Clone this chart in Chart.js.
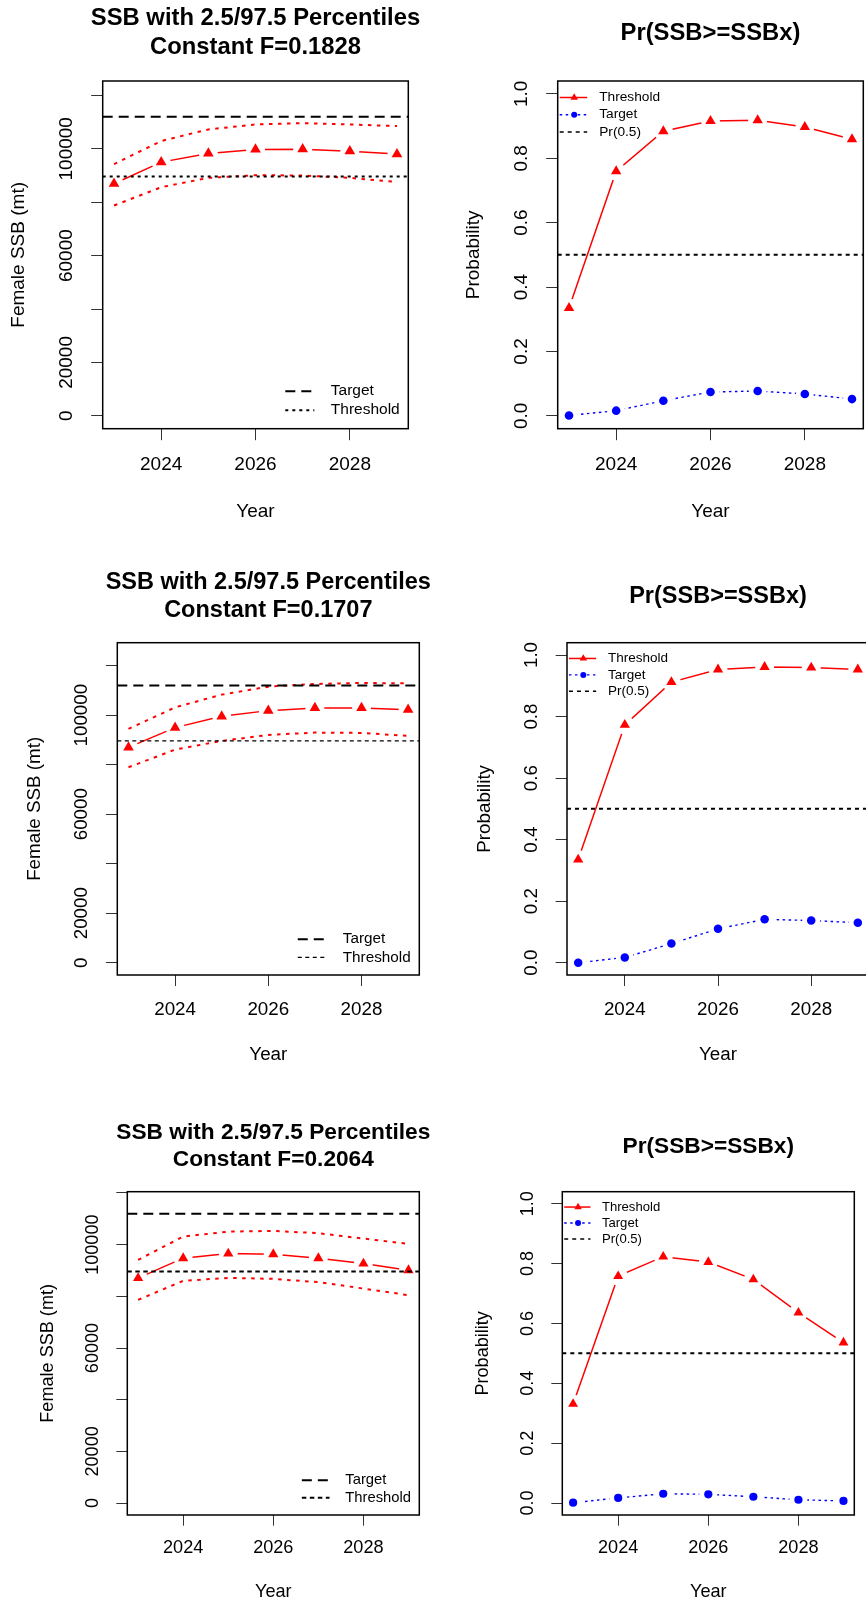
<!DOCTYPE html>
<html>
<head>
<meta charset="utf-8">
<script src="https://cdn.jsdelivr.net/npm/chart.js@4.4.0/dist/chart.umd.min.js"></script>
<style>
  html, body { margin: 0; padding: 0; background: #fff; overflow: hidden; }
  body { position: relative; width: 866px; height: 1616px; }
  canvas { position: absolute; }
</style>
</head>
<body>
<script>
// --- Data ---
const years = [2023, 2024, 2025, 2026, 2027, 2028, 2029];
const fValues = ['0.1828', '0.1707', '0.2064'];

const ssbMedianA = [86900, 95000, 98250, 99750, 99870, 99120, 98000];
const ssbUpperA  = [94250, 102900, 107250, 109100, 109600, 109100, 108500];
const ssbLowerA  = [78750, 85600, 89100, 90100, 90000, 89100, 87600];

const ssbMedianB = [87000, 94970, 99530, 101830, 102900, 102900, 102230];
const ssbUpperB  = [94440, 103160, 108290, 111520, 112600, 113000, 112850];
const ssbLowerB  = [78950, 86090, 89600, 92020, 92950, 92820, 91620];

const ssbMedianC = [87040, 94770, 96550, 96310, 94770, 92680, 90120];
const ssbUpperC  = [94110, 103120, 105050, 105330, 104440, 102350, 100300];
const ssbLowerC  = [78640, 85990, 87150, 86760, 85480, 83010, 80450];

const probThresholdA = [0.335, 0.760, 0.884, 0.916, 0.918, 0.897, 0.859];
const probTargetA    = [0.001, 0.016, 0.047, 0.074, 0.077, 0.068, 0.052];
const probThresholdB = [0.335, 0.773, 0.912, 0.953, 0.961, 0.959, 0.953];
const probTargetB    = [0.000, 0.017, 0.062, 0.110, 0.141, 0.137, 0.130];
const probThresholdC = [0.331, 0.758, 0.823, 0.805, 0.747, 0.636, 0.536];
const probTargetC    = [0.001, 0.017, 0.031, 0.029, 0.021, 0.011, 0.007];

const ssbTarget = 112000;
const ssbThreshold = 89600;
const probRef = 0.5;

const ssbTicks = [0, 20000, 40000, 60000, 80000, 100000, 120000];
const ssbTickLabels = ['0', '20000', '', '60000', '', '100000', ''];
const probTicks = [0, 0.2, 0.4, 0.6, 0.8, 1.0];
const probTickLabels = ['0.0', '0.2', '0.4', '0.6', '0.8', '1.0'];
const yearTicks = [2024, 2026, 2028];
const yearTickLabels = ['2024', '2026', '2028'];
// ------------

// page layout of the three rows (plot box edges in page pixels)
const rows = [
  { top: 0,    height: 540, T: 81,     B: 428.7, kx: 1,     ky: 1,     ssbBox: [102.7, 408.3], prBox: [557.7, 863.3], thrDash: [3, 4],     thrWidth: 2 },
  { top: 540,  height: 540, T: 642.7,  B: 975,   kx: 0.988, ky: 0.956, ssbBox: [117.3, 419.3], prBox: [567, 869],     thrDash: [4, 3.5],   thrWidth: 1.2 },
  { top: 1080, height: 536, T: 1191.7, B: 1515,  kx: 0.955, ky: 0.93,  ssbBox: [127.3, 419.3], prBox: [562.3, 854.3], thrDash: [4.5, 3.5], thrWidth: 2 }
];

const GAP = '#ffffff'; // white disc under each marker, leaves R's type="b" gap in the line
const FONT = '"Liberation Sans", Arial, Helvetica, sans-serif';
const fnt = (px, bold) => (bold ? 'bold ' : '') + px.toFixed(1) + 'px ' + FONT;
const xMin = years[0] - 0.04 * (years[years.length - 1] - years[0]);
const xMax = years[years.length - 1] + 0.04 * (years[years.length - 1] - years[0]);
const pts = arr => years.map((yr, i) => ({ x: yr, y: arr[i] }));
const span = v => [{ x: xMin, y: v }, { x: xMax, y: v }];

function legendLine(ctx, x0, x1, y, color, width, dash) {
  ctx.save();
  ctx.strokeStyle = color; ctx.lineWidth = width; ctx.setLineDash(dash);
  ctx.beginPath(); ctx.moveTo(x0, y); ctx.lineTo(x1, y); ctx.stroke();
  ctx.restore();
}

// draws the R-style frame, tick labels, titles and legend
const rDecor = {
  id: 'rDecor',
  afterDraw(chart, args, o) {
    const { ctx, chartArea: a, scales } = chart;
    const kx = o.kx, ky = o.ky;
    ctx.save();
    ctx.setLineDash([]);
    ctx.strokeStyle = '#000';
    ctx.lineWidth = 1.5;
    ctx.strokeRect(a.left, a.top, a.right - a.left, a.bottom - a.top);

    ctx.fillStyle = '#000';
    ctx.textAlign = 'center';
    ctx.textBaseline = 'middle';
    ctx.font = fnt(19 * kx);
    o.yTicks.forEach((v, i) => {
      if (!o.yTickLabels[i]) return;
      ctx.save();
      ctx.translate(a.left - 35.5 * kx, scales.y.getPixelForValue(v));
      ctx.rotate(-Math.PI / 2);
      ctx.fillText(o.yTickLabels[i], 0, 0);
      ctx.restore();
    });
    yearTicks.forEach((v, i) => {
      ctx.fillText(yearTickLabels[i], scales.x.getPixelForValue(v), a.bottom + 36 * ky);
    });
    const cx = (a.left + a.right) / 2;
    ctx.fillText('Year', cx, a.bottom + 83.3 * ky);
    ctx.save();
    ctx.translate(a.left - 83.5 * kx, (a.top + a.bottom) / 2);
    ctx.rotate(-Math.PI / 2);
    ctx.fillText(o.yTitle, 0, 0);
    ctx.restore();

    ctx.font = fnt(23.8 * kx, true);
    o.title.forEach((t, i) => ctx.fillText(t, cx, a.top - o.titleOff[i] * ky));

    if (o.kind === 'ssb') {
      const x0 = a.right - 123 * kx, x1 = a.right - 94 * kx, tx = a.right - 77.5 * kx;
      const y1 = a.bottom - 37.5 * ky, y2 = a.bottom - 18.5 * ky;
      legendLine(ctx, x0, x1, y1, '#000', 2, [10, 6]);
      legendLine(ctx, x0, x1, y2, '#000', o.thrWidth, o.thrDash);
      ctx.textAlign = 'left';
      ctx.font = fnt(15.5 * kx);
      ctx.fillText('Target', tx, y1);
      ctx.fillText('Threshold', tx, y2);
    } else {
      const x0 = a.left + 2 * kx, x1 = a.left + 29.5 * kx, xm = a.left + 16.5 * kx, tx = a.left + 41.5 * kx;
      const ys = [16.5, 33.7, 50.9].map(d => a.top + d * ky);
      legendLine(ctx, x0, x1, ys[0], '#ff0000', 1.5, []);
      ctx.fillStyle = '#ff0000';
      Chart.helpers.drawPoint(ctx, { pointStyle: 'triangle', radius: 4.3, borderWidth: 0, rotation: 0 }, xm, ys[0]);
      legendLine(ctx, x0, x1, ys[1], '#0000ff', 1.4, [2.5, 3.5]);
      ctx.fillStyle = '#0000ff';
      Chart.helpers.drawPoint(ctx, { pointStyle: 'circle', radius: 3, borderWidth: 0, rotation: 0 }, xm, ys[1]);
      legendLine(ctx, x0, x1, ys[2], '#000', 1.5, [4, 4]);
      ctx.fillStyle = '#000';
      ctx.textAlign = 'left';
      ctx.font = fnt(13.7 * kx);
      ctx.fillText('Threshold', tx, ys[0]);
      ctx.fillText('Target', tx, ys[1]);
      ctx.fillText('Pr(0.5)', tx, ys[2]);
    }
    ctx.restore();
  }
};

function makePanel(row, col, box, yMin, yMax, yTicks, yTickLabels, datasets, decor) {
  const cellLeft = col === 0 ? 0 : 440;
  const cellW = 440;
  const cv = document.createElement('canvas');
  cv.width = cellW; cv.height = row.height;
  cv.style.left = cellLeft + 'px'; cv.style.top = row.top + 'px';
  cv.style.width = cellW + 'px'; cv.style.height = row.height + 'px';
  document.body.appendChild(cv);

  const tickGrid = len => ({ display: true, drawOnChartArea: false, drawTicks: true, tickLength: len, color: '#333', lineWidth: 1 });

  return new Chart(cv.getContext('2d'), {
    type: 'line',
    data: { datasets: datasets },
    options: {
      responsive: false,
      animation: false,
      devicePixelRatio: 1,
      layout: { padding: { top: row.T - row.top, right: cellLeft + cellW - box[1], left: 0, bottom: 0 } },
      elements: { line: { tension: 0 } },
      plugins: {
        legend: { display: false },
        tooltip: { enabled: false },
        title: { display: false },
        rDecor: Object.assign({ kx: row.kx, ky: row.ky, yTicks: yTicks, yTickLabels: yTickLabels, thrDash: row.thrDash, thrWidth: row.thrWidth }, decor)
      },
      scales: {
        x: {
          type: 'linear', min: xMin, max: xMax,
          afterBuildTicks: s => { s.ticks = yearTicks.map(v => ({ value: v })); },
          afterFit: s => { s.height = row.top + row.height - row.B; },
          ticks: { display: false },
          grid: tickGrid(11.5 * row.ky),
          border: { display: false }
        },
        y: {
          type: 'linear', min: yMin, max: yMax,
          afterBuildTicks: s => { s.ticks = yTicks.filter(v => v <= yMax).map(v => ({ value: v })); },
          afterFit: s => { s.width = box[0] - cellLeft; },
          ticks: { display: false },
          grid: tickGrid(11.5 * row.kx),
          border: { display: false }
        }
      }
    },
    plugins: [rDecor]
  });
}

function ssbPanel(r, median, upper, lower) {
  const row = rows[r];
  const top = Math.max(...upper) * 1.1;
  const datasets = [
    { data: pts(median), borderColor: '#ff0000', borderWidth: 1.5, pointRadius: 0, order: 40 },
    { data: pts(median), showLine: false, pointStyle: 'circle', pointRadius: 9.5, backgroundColor: GAP, borderColor: GAP, pointBackgroundColor: GAP, pointBorderWidth: 0, order: 30 },
    { data: pts(median), showLine: false, pointStyle: 'triangle', pointRadius: 6.2 * row.kx, backgroundColor: '#ff0000', borderColor: '#ff0000', pointBackgroundColor: '#ff0000', pointBorderWidth: 0, order: 20 },
    { data: pts(upper), borderColor: '#ff0000', borderWidth: 2, borderDash: [3.5, 5.5], pointRadius: 0, order: 15 },
    { data: pts(lower), borderColor: '#ff0000', borderWidth: 2, borderDash: [3.5, 5.5], pointRadius: 0, order: 15 },
    { data: span(ssbTarget), borderColor: '#000', borderWidth: 2, borderDash: [10, 6], pointRadius: 0, order: 5 },
    { data: span(ssbThreshold), borderColor: '#000', borderWidth: row.thrWidth, borderDash: row.thrDash, pointRadius: 0, order: 5 }
  ];
  makePanel(row, 0, row.ssbBox, -0.04 * top, 1.04 * top, ssbTicks, ssbTickLabels, datasets, {
    kind: 'ssb',
    title: ['SSB with 2.5/97.5 Percentiles', 'Constant F=' + fValues[r]],
    titleOff: [63, 34],
    yTitle: 'Female SSB (mt)'
  });
}

function probPanel(r, thr, tgt) {
  const row = rows[r];
  const datasets = [
    { data: pts(thr), borderColor: '#ff0000', borderWidth: 1.5, pointRadius: 0, order: 40 },
    { data: pts(thr), showLine: false, pointStyle: 'circle', pointRadius: 9.5, backgroundColor: GAP, borderColor: GAP, pointBackgroundColor: GAP, pointBorderWidth: 0, order: 30 },
    { data: pts(thr), showLine: false, pointStyle: 'triangle', pointRadius: 6 * row.kx, backgroundColor: '#ff0000', borderColor: '#ff0000', pointBackgroundColor: '#ff0000', pointBorderWidth: 0, order: 20 },
    { data: pts(tgt), borderColor: '#0000ff', borderWidth: 1.4, borderDash: [2.5, 3.5], pointRadius: 0, order: 40 },
    { data: pts(tgt), showLine: false, pointStyle: 'circle', pointRadius: 9, backgroundColor: GAP, borderColor: GAP, pointBackgroundColor: GAP, pointBorderWidth: 0, order: 30 },
    { data: pts(tgt), showLine: false, pointStyle: 'circle', pointRadius: 4.3 * row.kx, backgroundColor: '#0000ff', borderColor: '#0000ff', pointBackgroundColor: '#0000ff', pointBorderWidth: 0, order: 20 },
    { data: span(probRef), borderColor: '#000', borderWidth: 2, borderDash: [4, 4], pointRadius: 0, order: 5 }
  ];
  makePanel(row, 1, row.prBox, -0.04, 1.04, probTicks, probTickLabels, datasets, {
    kind: 'prob',
    title: ['Pr(SSB>=SSBx)'],
    titleOff: [48],
    yTitle: 'Probability'
  });
}

ssbPanel(0, ssbMedianA, ssbUpperA, ssbLowerA);
probPanel(0, probThresholdA, probTargetA);
ssbPanel(1, ssbMedianB, ssbUpperB, ssbLowerB);
probPanel(1, probThresholdB, probTargetB);
ssbPanel(2, ssbMedianC, ssbUpperC, ssbLowerC);
probPanel(2, probThresholdC, probTargetC);
</script>
</body>
</html>
